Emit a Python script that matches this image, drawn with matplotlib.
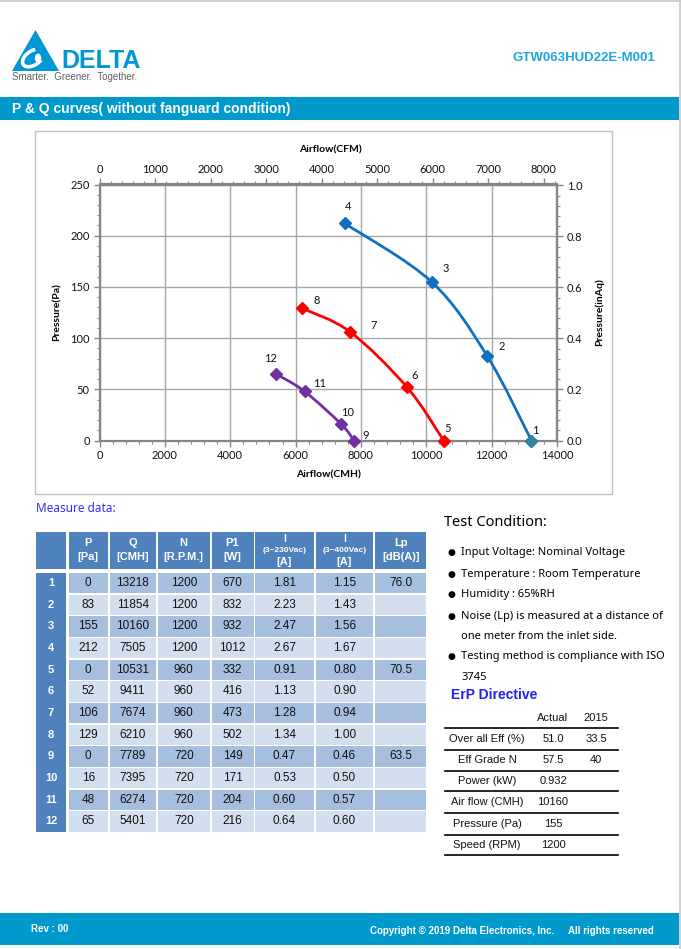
import matplotlib as mlp
import matplotlib.pyplot as plt
from matplotlib.path import Path
from matplotlib.patches import Rectangle, Polygon, PathPatch, Arc, Circle
from matplotlib.ticker import MultipleLocator, FormatStrFormatter
import numpy as np

#---------------------------------------------------------------------------------------------------
# data
#---------------------------------------------------------------------------------------------------
point_no = [1, 2, 3, 4, 5, 6, 7, 8, 9, 10, 11, 12]
pressure = [0, 83, 155, 212, 0, 52, 106, 129, 0, 16, 48, 65]            # Pa
airflow = [13218, 11854, 10160, 7505, 10531, 9411, 7674, 6210, 7789, 7395, 6274, 5401]  # CMH
speed = [1200, 1200, 1200, 1200, 960, 960, 960, 960, 720, 720, 720, 720]
power = [670, 832, 932, 1012, 332, 416, 473, 502, 149, 171, 204, 216]
amp_230 = ['1.81', '2.23', '2.47', '2.67', '0.91', '1.13', '1.28', '1.34', '0.47', '0.53', '0.60', '0.64']
amp_400 = ['1.15', '1.43', '1.56', '1.67', '0.80', '0.90', '0.94', '1.00', '0.46', '0.50', '0.57', '0.60']
noise = ['76.0', '', '', '', '70.5', '', '', '', '63.5', '', '', '']

curve_colors = ['#1170BE', '#FF0000', '#7030A0']
first_point_color = '#31859C'

erp_labels = ['Over all Eff (%)', 'Eff Grade N', 'Power (kW)', 'Air flow (CMH)', 'Pressure (Pa)', 'Speed (RPM)']
erp_actual = ['51.0', '57.5', '0.932', '10160', '155', '1200']
erp_2015 = ['33.5', '40', '', '', '', '']

conditions = ['Input Voltage: Nominal Voltage',
              'Temperature : Room Temperature',
              'Humidity : 65%RH',
              'Noise (Lp) is measured at a distance of\none meter from the inlet side.',
              'Testing method is compliance with ISO\n3745']

CFM = 1.699    # CMH per CFM
INAQ = 249.09  # Pa per inch of water

# label offsets (pixels) for the point numbers
label_off = [(4, 10), (15, 9), (14, 13), (3, 17), (4, 12), (8, 12),
             (23, 6), (14, 8), (12, 5), (6, 12), (15, 8), (-5, 15)]

#---------------------------------------------------------------------------------------------------
# HELPERS
#---------------------------------------------------------------------------------------------------
W, H = 681, 949
BLUE = '#0099CC'
ARIAL = ['Liberation Sans', 'DejaVu Sans']
NARROW = ['Liberation Sans Narrow', 'Liberation Sans', 'DejaVu Sans']
CHART = ['Lato', 'DejaVu Sans']
SEGOE = ['Noto Sans', 'DejaVu Sans']

fig = plt.figure(figsize=(W/100., H/100.), dpi=100)

def fx(x):
    return x/float(W)

def fy(y):
    return 1.0 - y/float(H)

def txt(x, y, s, **kw):
    kw.setdefault('va', 'center')
    kw.setdefault('ha', 'left')
    return fig.text(fx(x), fy(y), s, transform=fig.transFigure, **kw)

def box(x0, y0, x1, y1, **kw):
    r = Rectangle((fx(x0), fy(y1)), (x1-x0)/float(W), (y1-y0)/float(H),
                  transform=fig.transFigure, **kw)
    fig.add_artist(r)
    return r

def hline(x0, x1, y, **kw):
    fig.add_artist(plt.Line2D([fx(x0), fx(x1)], [fy(y), fy(y)], transform=fig.transFigure, **kw))

def smooth_path(xs, ys):
    # excel-like smoothed line: catmull-rom segments as cubic beziers
    P = np.column_stack([xs, ys]).astype(float)
    n = len(P)
    verts = [P[0]]
    codes = [Path.MOVETO]
    for i in range(n-1):
        p0 = P[i-1] if i > 0 else P[i]
        p3 = P[i+2] if i+2 < n else P[i+1]
        verts += [P[i] + (P[i+1]-p0)/6., P[i+1] - (p3-P[i])/6., P[i+1]]
        codes += [Path.CURVE4]*3
    return Path(verts, codes)

#---------------------------------------------------------------------------------------------------
# page frame, header, logo
#---------------------------------------------------------------------------------------------------
hline(0, 680, 1.0, color='#C8C8C8', lw=1.2)
fig.add_artist(plt.Line2D([fx(679.5), fx(679.5)], [fy(0), fy(949)], transform=fig.transFigure,
                          color='#C8C8C8', lw=1.2))

# logo
tri = Polygon([(fx(12), fy(71)), (fx(35.5), fy(30)), (fx(59), fy(71))], closed=True,
              transform=fig.transFigure, facecolor='#0097D7', edgecolor='none')
fig.add_artist(tri)
fig.add_artist(Arc((fx(33), fy(58)), 22/float(W), 15/float(H), angle=20, theta1=50, theta2=330,
                   transform=fig.transFigure, color='white', lw=2.6))
fig.add_artist(Circle((fx(38), fy(58)), 3.2/float(W), transform=fig.transFigure,
                      facecolor='white', edgecolor='none'))
txt(61, 60.5, 'DELTA', fontsize=18, fontweight='bold', color='#0097D7', family=ARIAL)
txt(12, 77.5, 'Smarter.  Greener.  Together.', fontsize=7, color='#606060', family=NARROW)

txt(655, 58, 'GTW063HUD22E-M001', ha='right', fontsize=9.5, fontweight='bold',
    color='#1BA6E0', family=ARIAL)

box(0, 97, 679, 120, facecolor=BLUE, edgecolor='none')
txt(12, 108.5, 'P & Q curves( without fanguard condition)', fontsize=10, fontweight='bold',
    color='white', family=ARIAL)

#---------------------------------------------------------------------------------------------------
# P & Q chart
#---------------------------------------------------------------------------------------------------
box(35, 131, 612, 494, facecolor='none', edgecolor='#BFBFBF', lw=1.0)

ax = fig.add_axes([fx(99.5), fy(440.5), (557-99.5)/W, (440.5-184.5)/H])
ax.set_xlim(0, 14000)
ax.set_ylim(0, 250)
ax.xaxis.set_major_locator(MultipleLocator(2000))
ax.xaxis.set_minor_locator(MultipleLocator(400))
ax.yaxis.set_major_locator(MultipleLocator(50))
ax.yaxis.set_minor_locator(MultipleLocator(10))
ax.grid(True, which='major', color='#A6A6A6', lw=1.0)
ax.set_axisbelow(True)
for s in ax.spines.values():
    s.set_color('#868686')
    s.set_linewidth(1.6)

top = ax.secondary_xaxis('top', functions=(lambda x: x/CFM, lambda x: x*CFM))
top.xaxis.set_major_locator(MultipleLocator(1000))
top.xaxis.set_minor_locator(MultipleLocator(200))
right = ax.secondary_yaxis('right', functions=(lambda p: p/INAQ, lambda p: p*INAQ))
right.yaxis.set_major_locator(MultipleLocator(0.2))
right.yaxis.set_minor_locator(MultipleLocator(0.04))
right.yaxis.set_major_formatter(FormatStrFormatter('%.1f'))

for a in (ax, top, right):
    a.tick_params(which='major', direction='out', length=4, width=1.0, color='#868686',
                  labelsize=8, labelcolor='#111111', pad=3)
    a.tick_params(which='minor', direction='out', length=2.5, width=0.8, color='#868686')
    for lab in a.get_xticklabels() + a.get_yticklabels():
        lab.set_family(CHART)
for s in list(top.spines.values()) + list(right.spines.values()):
    s.set_color('#868686')
    s.set_linewidth(1.6)

for k in range(3):
    sl = slice(4*k, 4*k+4)
    xs, ys = airflow[sl], pressure[sl]
    ax.add_patch(PathPatch(smooth_path(xs, ys), facecolor='none', edgecolor=curve_colors[k],
                           lw=2.0, capstyle='round', zorder=3))
    ax.plot(xs, ys, ls='none', marker='D', markersize=6, color=curve_colors[k], zorder=4,
            clip_on=False)
ax.plot(airflow[0], pressure[0], ls='none', marker='D', markersize=6, color=first_point_color,
        zorder=5, clip_on=False)

for i, n in enumerate(point_no):
    ax.annotate(str(n), (airflow[i], pressure[i]), xytext=label_off[i], textcoords='offset pixels',
                ha='center', va='center', fontsize=8, family=CHART, color='#111111', zorder=6)

txt(330, 150, 'Airflow(CFM)', ha='center', fontsize=7.5, fontweight='bold', family=CHART)
txt(328, 475, 'Airflow(CMH)', ha='center', fontsize=7.5, fontweight='bold', family=CHART)
txt(57, 312, 'Pressure(Pa)', ha='center', rotation=90, fontsize=7.5, fontweight='bold', family=CHART)
txt(599, 312, 'Pressure(inAq)', ha='center', rotation=90, fontsize=7.5, fontweight='bold', family=CHART)

#---------------------------------------------------------------------------------------------------
# measure data table
#---------------------------------------------------------------------------------------------------
txt(36, 509, 'Measure data:', fontsize=8.5, fontweight='bold', color='#3030F0', family=SEGOE)

cols = [(69, 107.5), (109.5, 156), (158, 209.5), (211.5, 253.5), (255.5, 313.5), (315.5, 373.5), (375.5, 426)]
HEAD = '#4F81BD'
box(36, 531.5, 66, 569, facecolor=HEAD, edgecolor='none')
for (x0, x1) in cols:
    box(x0, 531.5, x1, 569, facecolor=HEAD, edgecolor='none')

heads = [('P', '[Pa]'), ('Q', '[CMH]'), ('N', '[R.P.M.]'), ('P1', '[W]')]
for j, (a, b) in enumerate(heads):
    xc = 0.5*(cols[j][0]+cols[j][1])
    txt(xc, 543.5, a, ha='center', fontsize=8, fontweight='bold', color='white', family=ARIAL)
    txt(xc, 557, b, ha='center', fontsize=8, fontweight='bold', color='white', family=ARIAL)
for j, v in [(4, '(3~230Vac)'), (5, '(3~400Vac)')]:
    xc = 0.5*(cols[j][0]+cols[j][1])
    txt(xc, 539.5, 'I', ha='center', fontsize=7.5, fontweight='bold', color='white', family=ARIAL)
    txt(xc, 550.5, v, ha='center', fontsize=6, fontweight='bold', color='white', family=ARIAL)
    txt(xc, 562, '[A]', ha='center', fontsize=8, fontweight='bold', color='white', family=ARIAL)
xc = 0.5*(cols[6][0]+cols[6][1])
txt(xc, 543.5, 'Lp', ha='center', fontsize=8, fontweight='bold', color='white', family=ARIAL)
txt(xc, 557, '[dB(A)]', ha='center', fontsize=8, fontweight='bold', color='white', family=ARIAL)

row0, rh = 573.0, 21.65
box(36, row0, 66, row0 + 12*rh - 1.3, facecolor=HEAD, edgecolor='none')
for i in range(12):
    y0 = row0 + i*rh
    yc = y0 + 0.5*(rh-1.3)
    fc = '#A7BFDE' if i % 2 == 0 else '#D3DFEE'
    for (x0, x1) in cols:
        box(x0, y0, x1, y0 + rh - 1.3, facecolor=fc, edgecolor='none')
    txt(51, yc, str(point_no[i]), ha='center', fontsize=8, fontweight='bold', color='white', family=ARIAL)
    vals = [str(pressure[i]), str(airflow[i]), str(speed[i]), str(power[i]), amp_230[i], amp_400[i], noise[i]]
    for j, v in enumerate(vals):
        txt(0.5*(cols[j][0]+cols[j][1]), yc, v, ha='center', fontsize=8.5, color='#111111', family=ARIAL)

#---------------------------------------------------------------------------------------------------
# test condition + ErP directive
#---------------------------------------------------------------------------------------------------
txt(444, 522, 'Test Condition:', fontsize=10.5, color='black', family=SEGOE)
ys = [553, 575, 595, 616, 657]
for y, s in zip(ys, conditions):
    txt(451.5, y, u'\u25cf', ha='center', fontsize=6.5, color='black', family=['DejaVu Sans'])
    for k, line in enumerate(s.split('\n')):
        txt(461, y + 20.5*k, line, fontsize=8, color='black', family=SEGOE)

txt(451, 695, 'ErP Directive', fontsize=10, fontweight='bold', color='#2020F0', family=ARIAL)

txt(553, 718, 'Actual', ha='center', fontsize=8, family=ARIAL, color='#111111')
txt(596, 718, '2015', ha='center', fontsize=8, family=ARIAL, color='#111111')
lines_y = [728.3, 749.7, 770.7, 791.3, 813.3, 834.7, 855]
for y in lines_y:
    hline(445, 618, y, color='black', lw=1.2)
for i in range(6):
    yc = 0.5*(lines_y[i] + lines_y[i+1])
    txt(487, yc, erp_labels[i], ha='center', fontsize=8, family=ARIAL, color='#111111')
    txt(553, yc, erp_actual[i], ha='center', fontsize=8, family=ARIAL, color='#111111')
    txt(596, yc, erp_2015[i], ha='center', fontsize=8, family=ARIAL, color='#111111')

#---------------------------------------------------------------------------------------------------
# footer
#---------------------------------------------------------------------------------------------------
box(0, 913, 679, 945, facecolor=BLUE, edgecolor='none')
txt(31, 929, 'Rev : 00', fontsize=7, fontweight='bold', color='white', family=NARROW)
txt(370, 931.5, u'Copyright \u00a9 2019 Delta Electronics, Inc.', fontsize=7, fontweight='bold',
    color='white', family=NARROW)
txt(568, 931.5, 'All rights reserved', fontsize=7, fontweight='bold', color='white', family=NARROW)

plt.savefig('out.png', dpi=100)
